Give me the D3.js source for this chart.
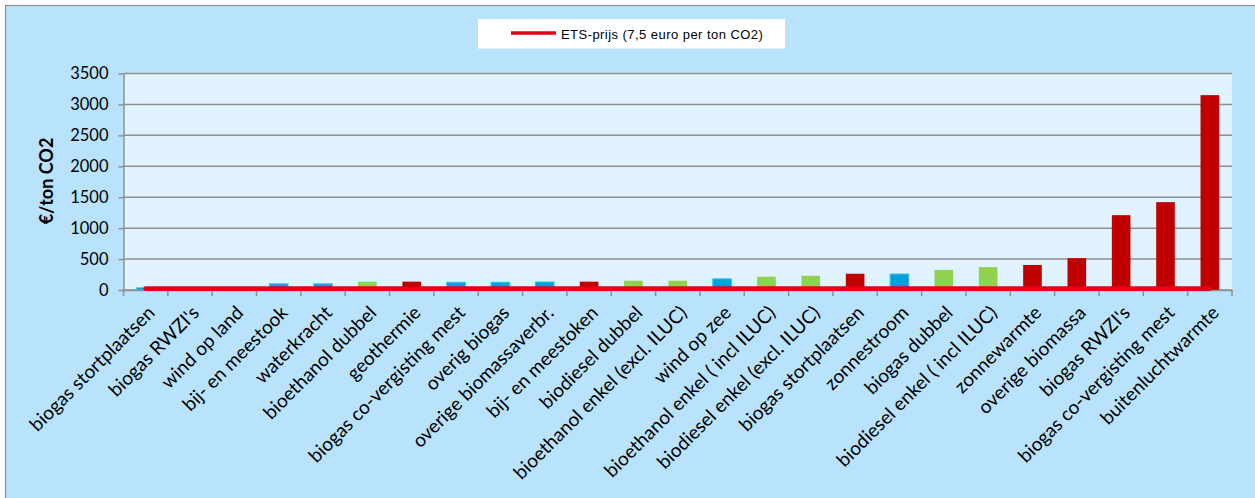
<!DOCTYPE html>
<html>
<head>
<meta charset="utf-8">
<script src="https://cdn.jsdelivr.net/npm/d3@7"></script>
<style>
  html, body { margin: 0; padding: 0; background: #ffffff; }
  svg { display: block; }
</style>
</head>
<body>
<svg id="chart" width="1255" height="498"></svg>
<script>
// Kosten per vermeden ton CO2 per techniek (€/ton CO2)
const categories = [
  "biogas stortplaatsen", "biogas RWZI's", "wind op land", "bij- en meestook",
  "waterkracht", "bioethanol dubbel", "geothermie", "biogas co-vergisting mest",
  "overig biogas", "overige biomassaverbr.", "bij- en meestoken", "biodiesel dubbel",
  "bioethanol enkel (excl. ILUC)", "wind op zee", "bioethanol enkel ( incl ILUC)",
  "biodiesel enkel (excl. ILUC)", "biogas stortplaatsen", "zonnestroom", "biogas dubbel",
  "biodiesel enkel ( incl ILUC)", "zonnewarmte", "overige biomassa", "biogas RWZI's",
  "biogas co-vergisting mest", "buitenluchtwarmte"
];

const costs = [
  35, 15, 20, 100, 100, 135, 135, 125, 125, 130, 135, 150, 150,
  180, 215, 230, 263, 258, 325, 370, 405, 515, 1210, 1420, 3150
];

// groep per techniek: bepaalt de kleur van de staaf
const groups = [
  "elektriciteit", "elektriciteit", "elektriciteit", "elektriciteit", "elektriciteit",
  "biobrandstof", "warmte", "elektriciteit", "elektriciteit", "elektriciteit",
  "warmte", "biobrandstof", "biobrandstof", "elektriciteit", "biobrandstof",
  "biobrandstof", "warmte", "elektriciteit", "biobrandstof", "biobrandstof",
  "warmte", "warmte", "warmte", "warmte", "warmte"
];

// ETS-prijs als lijn over alle technieken
const etsPrice = [
  7.5, 7.5, 7.5, 7.5, 7.5, 7.5, 7.5, 7.5, 7.5, 7.5, 7.5, 7.5, 7.5,
  7.5, 7.5, 7.5, 7.5, 7.5, 7.5, 7.5, 7.5, 7.5, 7.5, 7.5, 7.5
];

const yTicks = [0, 500, 1000, 1500, 2000, 2500, 3000, 3500];
const legendLabel = "ETS-prijs (7,5 euro per ton CO2)";
const yTitle = "€/ton CO2";

const groupColors = {
  elektriciteit: "#00A0DC",
  biobrandstof: "#92D050",
  warmte: "#C00000"
};

const plot = { left: 123.5, right: 1232, top: 73.5, bottom: 290 };
const gridColor = "#8f8f8f";

const svg = d3.select("#chart");

// achtergrond van het hele diagram
svg.append("rect")
  .attr("x", 5.5).attr("y", 5.5)
  .attr("width", 1270).attr("height", 510)
  .attr("fill", "#B9E3FD")
  .attr("stroke", "#8e8e8e").attr("stroke-width", 1.2);

// plotgebied
svg.append("rect")
  .attr("x", plot.left).attr("y", plot.top)
  .attr("width", plot.right - plot.left).attr("height", plot.bottom - plot.top)
  .attr("fill", "#E1F3FE");

const idx = d3.range(categories.length);
const x = d3.scaleBand().domain(idx).range([plot.left, plot.right]).padding(0);
const y = d3.scaleLinear().domain([0, 3500]).range([plot.bottom, plot.top]);
const bw = x.bandwidth();
const barW = bw * 0.42;

// horizontale rasterlijnen
svg.append("g").selectAll("line")
  .data(yTicks)
  .join("line")
  .attr("x1", plot.left).attr("x2", plot.right)
  .attr("y1", d => y(d)).attr("y2", d => y(d))
  .attr("stroke", gridColor).attr("stroke-width", 1.5);

// y-as
const yAxis = svg.append("g")
  .attr("transform", `translate(${plot.left},0)`)
  .call(d3.axisLeft(y).tickValues(yTicks).tickFormat(d3.format("d"))
    .tickSize(5).tickSizeOuter(0).tickPadding(10));
yAxis.select(".domain").attr("stroke", gridColor).attr("stroke-width", 1.5);
yAxis.selectAll(".tick line").attr("stroke", gridColor).attr("stroke-width", 1.5);
yAxis.selectAll(".tick text")
  .attr("font-family", "Lato, sans-serif")
  .attr("font-size", 16.5)
  .attr("fill", "#000");

// y-as titel
svg.append("text")
  .attr("transform", `translate(46,181) rotate(-90)`)
  .attr("text-anchor", "middle")
  .attr("dominant-baseline", "central")
  .attr("font-family", "Lato, sans-serif")
  .attr("font-weight", "bold")
  .attr("font-size", 18)
  .attr("fill", "#000")
  .text(yTitle);

// staven
svg.append("g").selectAll("rect")
  .data(idx)
  .join("rect")
  .attr("x", i => x(i) + (bw - barW) / 2)
  .attr("width", barW)
  .attr("y", i => y(costs[i]))
  .attr("height", i => y(0) - y(costs[i]))
  .attr("fill", i => groupColors[groups[i]])
  .attr("stroke", i => groups[i] === "elektriciteit" ? "#3fbde9" : "none")
  .attr("stroke-width", 1);

// x-as met categorielabels
const xAxis = svg.append("g")
  .attr("transform", `translate(0,${plot.bottom})`)
  .call(d3.axisBottom(x).tickSize(0).tickSizeOuter(0).tickFormat(i => categories[i]));
xAxis.select(".domain").attr("stroke", gridColor).attr("stroke-width", 1.5);
xAxis.selectAll(".tick text")
  .attr("x", 0).attr("y", 14.5).attr("dy", null)
  .attr("text-anchor", "end")
  .attr("transform", "translate(0,13.75) rotate(-45)")
  .attr("font-family", "Lato, sans-serif")
  .attr("font-size", 19)
  .attr("fill", "#000");

// streepjes op de grenzen tussen categorieën
svg.append("g").selectAll("line")
  .data(d3.range(categories.length + 1))
  .join("line")
  .attr("x1", i => plot.left + i * bw).attr("x2", i => plot.left + i * bw)
  .attr("y1", plot.bottom).attr("y2", plot.bottom + 6)
  .attr("stroke", gridColor).attr("stroke-width", 1.5);

// ETS-prijslijn
const etsLine = d3.line()
  .x((d, i) => x(i) + bw / 2)
  .y(d => y(d) - 1);
svg.append("path")
  .datum(etsPrice)
  .attr("d", etsLine)
  .attr("fill", "none")
  .attr("stroke", "#E3001B")
  .attr("stroke-width", 4.7)
  .attr("stroke-linecap", "round");

// legenda
const legend = svg.append("g");
legend.append("rect")
  .attr("x", 478).attr("y", 19)
  .attr("width", 307).attr("height", 29.5)
  .attr("fill", "#ffffff");
legend.append("line")
  .attr("x1", 511).attr("x2", 556)
  .attr("y1", 33).attr("y2", 33)
  .attr("stroke", "#E3001B").attr("stroke-width", 3.4);
legend.append("text")
  .attr("x", 561).attr("y", 34)
  .attr("dominant-baseline", "central")
  .attr("font-family", "'Liberation Sans', Arial, sans-serif")
  .attr("font-size", 13)
  .attr("letter-spacing", 0.45)
  .attr("fill", "#000")
  .text(legendLabel);
</script>
</body>
</html>
